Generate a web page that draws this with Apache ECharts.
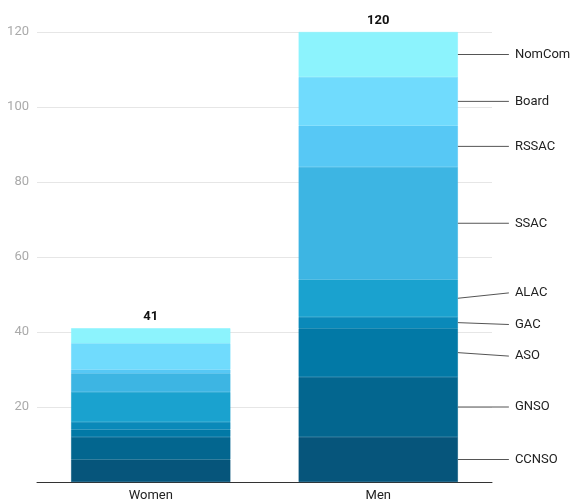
<!DOCTYPE html>
<html>
<head>
<meta charset="utf-8">
<script src="https://cdn.jsdelivr.net/npm/echarts@6/dist/echarts.min.js"></script>
<style>
html,body{margin:0;padding:0;background:#fff;}
#chart{width:572px;height:504px;}
</style>
</head>
<body>
<div id="chart"></div>
<script>
// ---- data ----
const categories = ['Women', 'Men'];
const groups = ['CCNSO', 'GNSO', 'ASO', 'GAC', 'ALAC', 'SSAC', 'RSSAC', 'Board', 'NomCom'];
const CCNSO  = [6, 12];
const GNSO   = [6, 16];
const ASO    = [2, 13];
const GAC    = [2, 3];
const ALAC   = [8, 10];
const SSAC   = [5, 30];
const RSSAC  = [1, 11];
const Board  = [7, 13];
const NomCom = [4, 12];
const yTicks = [0, 20, 40, 60, 80, 100, 120];

const seriesValues = [CCNSO, GNSO, ASO, GAC, ALAC, SSAC, RSSAC, Board, NomCom];
const colors = ['#06557b', '#03668f', '#0279a6', '#0a89b9', '#1aa2cf', '#3db5e3', '#57c8f5', '#70dbfd', '#8cf3fd'];

const totals = categories.map((c, i) => seriesValues.reduce((s, arr) => s + arr[i], 0));
// midpoints of each segment for the "Men" column (index 1)
const menIndex = 1;
const menMids = [];
(function () {
  let acc = 0;
  seriesValues.forEach(arr => { menMids.push(acc + arr[menIndex] / 2); acc += arr[menIndex]; });
})();

const BAR_RATIO = 0.7;
const LABEL_GAP = 31.6;
const FONT = 'Roboto, "Noto Sans", sans-serif';

function spread(targets, gap) {
  // resolve overlapping label positions by centring clusters on their targets
  const order = targets.map((y, i) => ({ y, i })).sort((a, b) => a.y - b.y);
  let clusters = order.map(o => ({ items: [o], pos: o.y }));
  const place = c => {
    const mean = c.items.reduce((s, o) => s + o.y, 0) / c.items.length;
    c.pos = mean - (c.items.length - 1) * gap / 2;
  };
  let changed = true;
  while (changed) {
    changed = false;
    for (let k = 0; k < clusters.length - 1; k++) {
      const a = clusters[k], b = clusters[k + 1];
      const aEnd = a.pos + (a.items.length - 1) * gap;
      if (b.pos - aEnd < gap) {
        const m = { items: a.items.concat(b.items), pos: 0 };
        place(m);
        clusters.splice(k, 2, m);
        changed = true;
        break;
      }
    }
  }
  const out = new Array(targets.length);
  clusters.forEach(c => c.items.forEach((o, j) => { out[o.i] = c.pos + j * gap; }));
  return out;
}

const chart = echarts.init(document.getElementById('chart'), null, { renderer: 'canvas' });

const barSeries = groups.map((g, k) => ({
  name: g,
  type: 'bar',
  stack: 'total',
  barWidth: (BAR_RATIO * 100) + '%',
  data: seriesValues[k],
  itemStyle: { color: colors[k], borderColor: colors[k], borderWidth: 0.6 },
  label: k === groups.length - 1 ? {
    show: true,
    position: 'top',
    distance: 5,
    formatter: p => String(totals[p.dataIndex]),
    color: '#111',
    fontWeight: 'bold',
    fontSize: 13,
    fontFamily: FONT
  } : { show: false },
  emphasis: { disabled: true }
}));

const labelSeries = {
  type: 'custom',
  name: 'labels',
  silent: true,
  z: 10,
  data: groups.map((g, k) => [menIndex, menMids[k]]),
  renderItem: function (params, api) {
    const k = params.dataIndex;
    const band = api.size([1, 0])[0];
    const center = api.coord([menIndex, menMids[k]]);
    const xEdge = center[0] + band * BAR_RATIO / 2;
    const ys = menMids.map(m => api.coord([menIndex, m])[1]);
    const placed = spread(ys, LABEL_GAP);
    const ly = placed[k];
    return {
      type: 'group',
      children: [
        {
          type: 'polyline',
          shape: { points: [[xEdge, center[1]], [xEdge + 51, ly]] },
          style: { stroke: '#555', lineWidth: 1, fill: null }
        },
        {
          type: 'text',
          style: {
            text: groups[k],
            x: xEdge + 57,
            y: ly,
            textAlign: 'left',
            textVerticalAlign: 'middle',
            fill: '#222',
            fontSize: 13,
            fontFamily: FONT
          }
        }
      ]
    };
  }
};

chart.setOption({
  animation: false,
  backgroundColor: '#fff',
  grid: { left: 37, right: 80, top: 32, bottom: 22, containLabel: false },
  xAxis: {
    type: 'category',
    data: categories,
    axisLine: { show: true, lineStyle: { color: '#333', width: 1 } },
    axisTick: { show: false },
    axisLabel: { color: '#222', fontSize: 13, margin: 7, fontFamily: FONT }
  },
  yAxis: {
    type: 'value',
    min: yTicks[0],
    max: yTicks[yTicks.length - 1],
    interval: yTicks[1] - yTicks[0],
    axisLine: { show: false },
    axisTick: { show: false },
    splitLine: { lineStyle: { color: '#e6e6e6', width: 1 } },
    axisLabel: { color: '#aaa', fontSize: 13, margin: 8, showMinLabel: false, fontFamily: FONT }
  },
  series: barSeries.concat([labelSeries])
});
</script>
</body>
</html>
